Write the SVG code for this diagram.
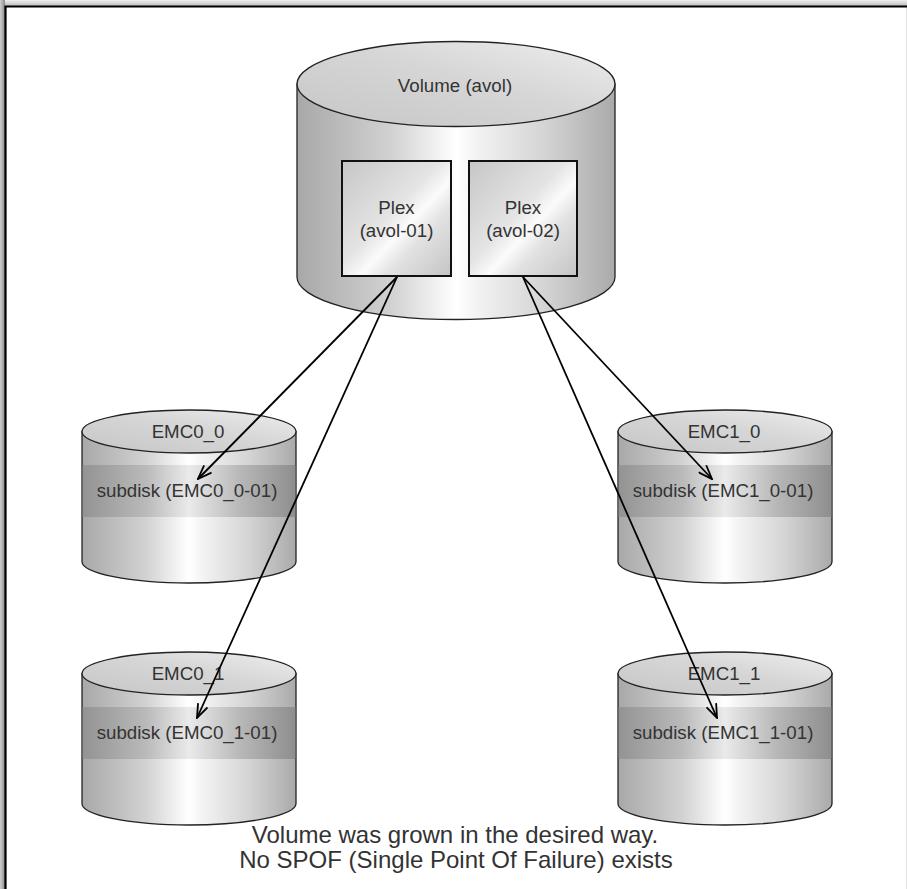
<svg xmlns="http://www.w3.org/2000/svg" width="907" height="889" viewBox="0 0 907 889">
  <style>
    .lbl { font-family: "Liberation Sans", Arial, sans-serif; font-size: 18.7px; fill: #333; text-anchor: middle; }
    .note { font-family: "Liberation Sans", Arial, sans-serif; font-size: 24px; fill: #333; text-anchor: middle; }
    .body { fill: url(#gBody); stroke: #222; stroke-width: 1.3; }
    .top { fill: url(#gTop); stroke: #222; stroke-width: 1.3; }
    .band { fill: url(#gBand); stroke: none; }
    .plex { fill: url(#gPlex); stroke: #111; stroke-width: 2; }
    .link { fill: none; stroke: #000; stroke-width: 1.8; marker-end: url(#arrow); }
  </style>
  <defs>
    <linearGradient id="gBody" x1="0" y1="0" x2="1" y2="0">
      <stop offset="0" stop-color="#a8a8a8"/>
      <stop offset="0.3" stop-color="#d2d2d2"/>
      <stop offset="0.5" stop-color="#ffffff"/>
      <stop offset="0.57" stop-color="#f2f2f2"/>
      <stop offset="0.78" stop-color="#d4d4d4"/>
      <stop offset="1" stop-color="#aaaaaa"/>
    </linearGradient>
    <linearGradient id="gBand" x1="0" y1="0" x2="1" y2="0">
      <stop offset="0" stop-color="#939393"/>
      <stop offset="0.3" stop-color="#bababa"/>
      <stop offset="0.5" stop-color="#eaeaea"/>
      <stop offset="0.75" stop-color="#b6b6b6"/>
      <stop offset="1" stop-color="#8e8e8e"/>
    </linearGradient>
    <linearGradient id="gTop" x1="0" y1="1" x2="1" y2="0">
      <stop offset="0" stop-color="#c6c6c6"/>
      <stop offset="0.55" stop-color="#d6d6d6"/>
      <stop offset="1" stop-color="#eeeeee"/>
    </linearGradient>
    <linearGradient id="gPlex" x1="0" y1="0" x2="1" y2="1">
      <stop offset="0" stop-color="#c6c6c6"/>
      <stop offset="0.45" stop-color="#e4e4e4"/>
      <stop offset="0.58" stop-color="#fbfbfb"/>
      <stop offset="0.7" stop-color="#e2e2e2"/>
      <stop offset="1" stop-color="#c4c4c4"/>
    </linearGradient>
    <linearGradient id="gShadeL" x1="0" y1="0" x2="1" y2="0">
      <stop offset="0" stop-color="#d0d0d0"/>
      <stop offset="1" stop-color="#8a8a8a"/>
    </linearGradient>
    <linearGradient id="gShadeT" x1="0" y1="0" x2="0" y2="1">
      <stop offset="0" stop-color="#f0f0f0"/>
      <stop offset="1" stop-color="#bdbdbd"/>
    </linearGradient>
    <marker id="arrow" viewBox="0 0 16 12" refX="15" refY="6" markerWidth="16" markerHeight="12" markerUnits="userSpaceOnUse" orient="auto">
      <path d="M1,0.8 L15,6 L1,11.2" fill="none" stroke="#000" stroke-width="1.8"/>
    </marker>
  </defs>

  <!-- page frame with soft shadow -->
  <rect x="0" y="0" width="907" height="889" fill="#fff"/>
  <rect x="0" y="0" width="907" height="6" fill="url(#gShadeT)"/>
  <rect x="0" y="0" width="5" height="889" fill="url(#gShadeL)"/>
  <line x1="906.5" y1="7" x2="906.5" y2="889" stroke="#e2e2e2" stroke-width="1"/>
  <path d="M5.5,889 L5.5,6.5 L907,6.5" fill="none" stroke="#000" stroke-width="2.2"/>

  <!-- volume cylinder -->
  <g id="volume">
    <path class="body" d="M297,84 L297,277 A159,42.5 0 0 0 615,277 L615,84 Z"/>
    <ellipse class="top" cx="456" cy="84" rx="159" ry="42.5"/>
    <text class="lbl" x="455" y="92">Volume (avol)</text>
  </g>
  <g id="plex-avol-01">
    <rect class="plex" x="342" y="161" width="109" height="115"/>
    <text class="lbl" x="396.5" y="214">Plex</text>
    <text class="lbl" x="396.5" y="237">(avol-01)</text>
  </g>
  <g id="plex-avol-02">
    <rect class="plex" x="469" y="161" width="108" height="115"/>
    <text class="lbl" x="523" y="214">Plex</text>
    <text class="lbl" x="523" y="237">(avol-02)</text>
  </g>

  <!-- disk cylinders: top ellipse centre (cx, cy), rx 107, ry 21.5, height 130 -->
  <g id="emc0-0">
    <path class="body" d="M82,431.5 L82,561.5 A107,21.5 0 0 0 296,561.5 L296,431.5 Z"/>
    <rect class="band" x="82.7" y="465" width="212.6" height="52"/>
    <ellipse class="top" cx="189" cy="431.5" rx="107" ry="21.5"/>
    <text class="lbl" x="188" y="438">EMC0_0</text>
    <text class="lbl" x="187" y="497">subdisk (EMC0_0-01)</text>
  </g>
  <g id="emc0-1">
    <path class="body" d="M82,673.5 L82,803.5 A107,21.5 0 0 0 296,803.5 L296,673.5 Z"/>
    <rect class="band" x="82.7" y="707" width="212.6" height="52"/>
    <ellipse class="top" cx="189" cy="673.5" rx="107" ry="21.5"/>
    <text class="lbl" x="188" y="680">EMC0_1</text>
    <text class="lbl" x="187" y="739">subdisk (EMC0_1-01)</text>
  </g>
  <g id="emc1-0">
    <path class="body" d="M618,431.5 L618,561.5 A107,21.5 0 0 0 832,561.5 L832,431.5 Z"/>
    <rect class="band" x="618.7" y="465" width="212.6" height="52"/>
    <ellipse class="top" cx="725" cy="431.5" rx="107" ry="21.5"/>
    <text class="lbl" x="724" y="438">EMC1_0</text>
    <text class="lbl" x="723" y="497">subdisk (EMC1_0-01)</text>
  </g>
  <g id="emc1-1">
    <path class="body" d="M618,673.5 L618,803.5 A107,21.5 0 0 0 832,803.5 L832,673.5 Z"/>
    <rect class="band" x="618.7" y="707" width="212.6" height="52"/>
    <ellipse class="top" cx="725" cy="673.5" rx="107" ry="21.5"/>
    <text class="lbl" x="724" y="680">EMC1_1</text>
    <text class="lbl" x="723" y="739">subdisk (EMC1_1-01)</text>
  </g>

  <!-- plex to subdisk links -->
  <g id="connectors">
    <line class="link" x1="397" y1="277" x2="198" y2="479"/>
    <line class="link" x1="397" y1="277" x2="197" y2="718"/>
    <line class="link" x1="523" y1="277" x2="712" y2="479"/>
    <line class="link" x1="523" y1="277" x2="717" y2="718"/>
  </g>

  <g id="caption">
    <text class="note" x="455" y="842.5">Volume was grown in the desired way.</text>
    <text class="note" x="456" y="868">No SPOF (Single Point Of Failure) exists</text>
  </g>
</svg>
